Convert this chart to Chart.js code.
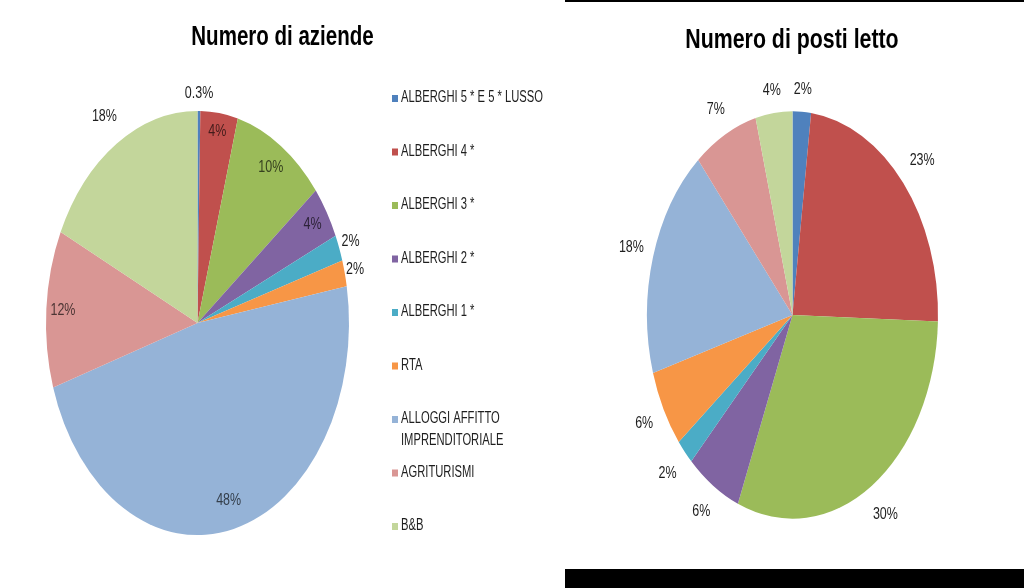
<!DOCTYPE html>
<html>
<head>
<meta charset="utf-8">
<script src="https://cdn.jsdelivr.net/npm/chart.js@4.4.1/dist/chart.umd.min.js"></script>
<style>
  html, body { margin: 0; padding: 0; background: #fff; }
  body { width: 1024px; height: 588px; position: relative; overflow: hidden; }
  #left { position: absolute; left: 0; top: 0; }
  #right { position: absolute; left: 565px; top: 0; }
  .bar { position: absolute; background: #000; }
</style>
</head>
<body>
<canvas id="left" width="565" height="588"></canvas>
<canvas id="right" width="459" height="588"></canvas>
<div class="bar" style="left:565px;top:0;width:459px;height:2px"></div>
<div class="bar" style="left:565px;top:569px;width:459px;height:19px"></div>
<script>
// data (percent)
const categories = [
  'ALBERGHI 5 * E 5 * LUSSO',
  'ALBERGHI 4 *',
  'ALBERGHI 3 *',
  'ALBERGHI 2 *',
  'ALBERGHI 1 *',
  'RTA',
  'ALLOGGI AFFITTO IMPRENDITORIALE',
  'AGRITURISMI',
  'B&B'
];
const aziendeValues = [0.3, 4, 10, 4, 2, 2, 48, 12, 18];
const postiLettoValues = [2, 23, 30, 6, 2, 6, 18, 7, 4];

const sliceColors = ['#4F81BD', '#C0504D', '#9BBB59', '#8064A2', '#4BACC6', '#F79646', '#95B3D7', '#D99694', '#C3D69B'];

function darken(hex) {
  const n = parseInt(hex.slice(1), 16);
  const r = Math.round(((n >> 16) & 255) * 0.35);
  const g = Math.round(((n >> 8) & 255) * 0.35);
  const b = Math.round((n & 255) * 0.35);
  return 'rgb(' + r + ',' + g + ',' + b + ')';
}

// condensed text: the originals are in a narrow font, so squeeze horizontally
function drawText(ctx, text, x, y, font, sx, align, baseline) {
  ctx.save();
  ctx.font = font;
  ctx.textAlign = align;
  ctx.textBaseline = baseline;
  ctx.translate(x, y);
  ctx.scale(sx, 1);
  ctx.fillText(text, 0, 0);
  ctx.restore();
}

// stretch the pie vertically into an ellipse, like the original
const ellipsePlugin = {
  id: 'ellipse',
  beforeDatasetsDraw(chart, args, opts) {
    const arc = chart.getDatasetMeta(0).data[0];
    const ctx = chart.ctx;
    ctx.save();
    ctx.translate(arc.x, arc.y);
    ctx.scale(1, opts.ratio);
    ctx.translate(-arc.x, -arc.y);
  },
  afterDatasetsDraw(chart) {
    chart.ctx.restore();
  }
};

const sliceLabelsPlugin = {
  id: 'sliceLabels',
  afterDraw(chart, args, opts) {
    const ctx = chart.ctx;
    const ratio = chart.options.plugins.ellipse.ratio;
    const values = chart.data.datasets[0].data;
    const colors = chart.data.datasets[0].backgroundColor;
    chart.getDatasetMeta(0).data.forEach((arc, i) => {
      const p = arc.getProps(['x', 'y', 'startAngle', 'endAngle', 'outerRadius'], true);
      const mid = (p.startAngle + p.endAngle) / 2;
      const f = opts.radius[i];
      const x = p.x + Math.cos(mid) * p.outerRadius * f;
      const y = p.y + Math.sin(mid) * p.outerRadius * f * ratio;
      const v = values[i];
      const text = (v < 1 ? v.toFixed(1) : String(v)) + '%';
      ctx.fillStyle = f < 1 ? darken(colors[i]) : '#1e1e1e';
      drawText(ctx, text, x, y, '16px "Liberation Sans"', 0.78, 'center', 'middle');
    });
  }
};

const titlePlugin = {
  id: 'chartTitle',
  afterDraw(chart, args, opts) {
    const ctx = chart.ctx;
    ctx.fillStyle = '#000';
    drawText(ctx, opts.text, opts.x, opts.baseline, 'bold 27px "Liberation Sans"', opts.sx, 'center', 'alphabetic');
  }
};

const sideLegendPlugin = {
  id: 'sideLegend',
  afterDraw(chart, args, opts) {
    const ctx = chart.ctx;
    const font = '16px "Liberation Sans"';
    const colors = chart.data.datasets[0].backgroundColor;
    chart.data.labels.forEach((label, i) => {
      const y = opts.top + i * opts.step;
      // wrap long labels
      ctx.font = font;
      const lines = [];
      let cur = '';
      label.split(' ').forEach(w => {
        const t = cur ? cur + ' ' + w : w;
        if (cur && ctx.measureText(t).width * opts.sx > opts.maxWidth) {
          lines.push(cur);
          cur = w;
        } else {
          cur = t;
        }
      });
      lines.push(cur);
      ctx.fillStyle = colors[i];
      ctx.fillRect(opts.x, y - 3, 6, 7);
      ctx.fillStyle = '#1e1e1e';
      lines.forEach((ln, k) => {
        drawText(ctx, ln, opts.x + 9, y + k * opts.lineGap, font, opts.sx, 'left', 'middle');
      });
    });
  }
};

new Chart(document.getElementById('left'), {
  type: 'pie',
  data: {
    labels: categories,
    datasets: [{ data: aziendeValues, backgroundColor: sliceColors, borderWidth: 0, clip: false }]
  },
  options: {
    responsive: false,
    animation: false,
    devicePixelRatio: 1,
    events: [],
    layout: { padding: { left: 46, right: 216, top: 171.5, bottom: 113.5 } },
    plugins: {
      legend: { display: false },
      tooltip: { enabled: false },
      ellipse: { ratio: 1.4 },
      sliceLabels: { radius: [1.08, 0.91, 0.88, 0.89, 1.08, 1.07, 0.86, 0.89, 1.15] },
      chartTitle: { text: 'Numero di aziende', x: 282.5, baseline: 45, sx: 0.76 },
      sideLegend: { x: 392, top: 98, step: 53.5, lineGap: 21.5, sx: 0.70, maxWidth: 160 }
    }
  },
  plugins: [ellipsePlugin, sliceLabelsPlugin, titlePlugin, sideLegendPlugin]
});

new Chart(document.getElementById('right'), {
  type: 'pie',
  data: {
    labels: categories,
    datasets: [{ data: postiLettoValues, backgroundColor: sliceColors, borderWidth: 0, clip: false }]
  },
  options: {
    responsive: false,
    animation: false,
    devicePixelRatio: 1,
    events: [],
    layout: { padding: { left: 82, right: 86, top: 169.5, bottom: 127.5 } },
    plugins: {
      legend: { display: false },
      tooltip: { enabled: false },
      ellipse: { ratio: 1.4 },
      sliceLabels: { radius: [1.11, 1.17, 1.17, 1.15, 1.16, 1.15, 1.155, 1.14, 1.11] },
      chartTitle: { text: 'Numero di posti letto', x: 227, baseline: 48, sx: 0.79 }
    }
  },
  plugins: [ellipsePlugin, sliceLabelsPlugin, titlePlugin]
});
</script>
</body>
</html>
